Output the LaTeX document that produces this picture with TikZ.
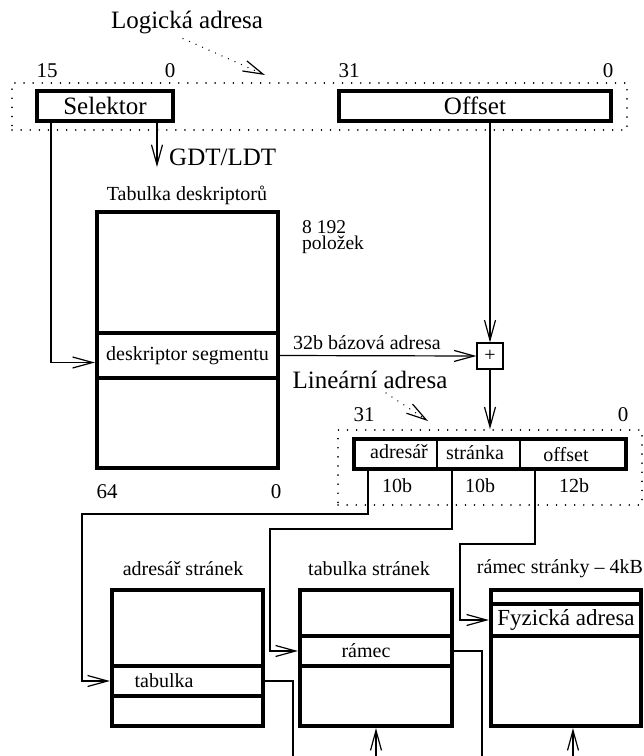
\documentclass[tikz,border=0pt]{standalone}
\usepackage{fontspec}
\setmainfont{Liberation Serif}
\usetikzlibrary{arrows.meta}
\newcommand\FBig{\fontsize{25}{28}\selectfont}
\newcommand\FMid{\fontsize{20}{22}\selectfont}
\newcommand\FNum{\fontsize{21}{24}\selectfont}
\newcommand\FFyz{\fontsize{23}{26}\selectfont}
\begin{document}
\begin{tikzpicture}[x=1pt,y=-1pt,
  thickbox/.style={draw, line width=4.3pt, inner sep=0pt},
  conn/.style={line width=1.2pt},
  arr/.style={conn, -{Straight Barb[length=20pt,width=11pt,line width=1.2pt]}},
  dotbox/.style={draw, line width=1.6pt, line cap=round, dash pattern=on 0.1pt off 9pt, inner sep=0pt},
  dotarr/.style={line width=1.4pt, line cap=round, dash pattern=on 0.1pt off 7pt, -{Straight Barb[length=20pt,width=11pt,line width=1.2pt]}},
  lbl/.style={inner sep=0pt}
]
\useasboundingbox (0,0) rectangle (644,756);

% ---------- logical address ----------
\node[lbl, font=\FBig] (loglbl) at (187,23) {Logická adresa};
\coordinate (logtip) at (265,75);
\draw[dotarr] ([xshift=-4pt,yshift=-4pt]loglbl.south) -- (logtip);

\node[dotbox, minimum width=615pt, minimum height=47pt] (logrect) at (319.5,106.5) {};
\node[lbl, font=\FNum] (n15) at (47,71) {15};
\node[lbl, font=\FNum] (n0a) at (170,71) {0};
\node[lbl, font=\FNum] (n31a) at (349,71) {31};
\node[lbl, font=\FNum] (n0b) at (608,71) {0};

\node[thickbox, minimum width=136pt, minimum height=30pt, font=\FBig] (sel) at (105,106) {Selektor};
\node[thickbox, minimum width=272pt, minimum height=30pt, font=\FBig] (off) at (475,106) {Offset};

\coordinate (gdtend) at (157,167);
\draw[arr] ([xshift=52pt]sel.south) -- (gdtend);
\node[lbl, font=\FBig, anchor=west] (gdt) at (169,157) {GDT/LDT};

% ---------- descriptor table ----------
\node[lbl, font=\FMid] (tabtitle) at (187,195) {Tabulka deskriptorů};
\node[thickbox, minimum width=181pt, minimum height=256pt] (tab) at (187.5,340) {};
\node[thickbox, minimum width=181pt, minimum height=45pt, font=\FMid] (seg) at (187.5,355.5) {deskriptor segmentu};
\node[lbl, font=\fontsize{19.5}{16.5}\selectfont, align=left, anchor=north west] (cnt) at (302,220) {8 192\\položek};
\node[lbl, font=\FNum] (n64) at (107,492) {64};
\node[lbl, font=\FNum] (n0c) at (276,492) {0};

\draw[arr] ([xshift=-54pt]sel.south) |- ([yshift=-7pt]seg.west);

% ---------- adder ----------
\node[draw, line width=1.2pt, minimum size=26pt, inner sep=0pt, font=\FMid] (plus) at (490,356) {+};
\draw[arr] (seg.east) -- (plus.west);
\node[lbl, font=\FMid] (baselbl) at (367,343) {32b bázová adresa};
\draw[arr] (off.south -| plus.north) -- (plus.north);

% ---------- linear address ----------
\node[lbl, font=\FBig] (linlbl) at (370,380) {Lineární adresa};
\coordinate (lintip) at (428,421);
\draw[dotarr] ([xshift=16pt,yshift=-4pt]linlbl.south) -- (lintip);

\node[dotbox, minimum width=304pt, minimum height=75pt] (linrect) at (490,467.5) {};
\draw[arr] (plus.south) -- (plus.south |- linrect.north);
\node[lbl, font=\FNum] (n31b) at (364,415) {31};
\node[lbl, font=\FNum] (n0d) at (623,415) {0};

\node[thickbox, minimum width=272pt, minimum height=30pt] (lin) at (490,454) {};
\draw[conn] (437,439) -- (437,469);
\draw[conn] (520,439) -- (520,469);
\node[lbl, font=\FMid] (c1) at (399,452) {adresář};
\node[lbl, font=\FMid] (c2) at (475,453) {stránka};
\node[lbl, font=\FMid] (c3) at (566,455) {offset};
\node[lbl, font=\FMid] (b10a) at (397,486) {10b};
\node[lbl, font=\FMid] (b10b) at (480,486) {10b};
\node[lbl, font=\FMid] (b12) at (574,486) {12b};

% ---------- page directory ----------
\node[lbl, font=\FMid] (adrtitle) at (183,569) {adresář stránek};
\node[thickbox, minimum width=151pt, minimum height=136pt] (adr) at (187.5,658) {};
\node[thickbox, minimum width=151pt, minimum height=30pt] (adrrow) at (187.5,681) {};
\node[lbl, font=\FMid] (adrtxt) at (164,681) {tabulka};

% ---------- page table ----------
\node[lbl, font=\FMid] (tsttitle) at (369,569) {tabulka stránek};
\node[thickbox, minimum width=152pt, minimum height=136pt] (tst) at (376,658) {};
\node[thickbox, minimum width=152pt, minimum height=30pt] (tstrow) at (376,651) {};
\node[lbl, font=\FMid] (tsttxt) at (366,651) {rámec};

% ---------- page frame ----------
\node[lbl, font=\FMid] (rstitle) at (560,569) {rámec stránky – 4kB};
\node[thickbox, minimum width=150pt, minimum height=136pt] (rs) at (566,658) {};
\node[thickbox, minimum width=150pt, minimum height=32pt, font=\FFyz] (rsrow) at (566,620) {Fyzická adresa};

% ---------- connectors from linear address ----------
\coordinate (a1) at (82,514);
\coordinate (a2) at (270,529);
\coordinate (a3) at (460,544);
\draw[arr] ([xshift=-122pt]lin.south) |- (a1) |- (adrrow.west);
\draw[arr] ([xshift=-38pt]lin.south) |- (a2) |- (tstrow.west);
\draw[arr] ([xshift=45pt]lin.south) |- (a3) |- (rsrow.west);

% ---------- lines leaving at the bottom ----------
\coordinate (e1) at (293,756);
\coordinate (e2) at (482,756);
\coordinate (e3) at (376,756);
\coordinate (e4) at (573,756);
\draw[conn] (adrrow.east) -| (e1);
\draw[conn] (tstrow.east) -| (e2);
\draw[arr] (e3) -- (tst.south);
\draw[arr] (e4) -- (e4 |- rs.south);
\end{tikzpicture}
\end{document}
